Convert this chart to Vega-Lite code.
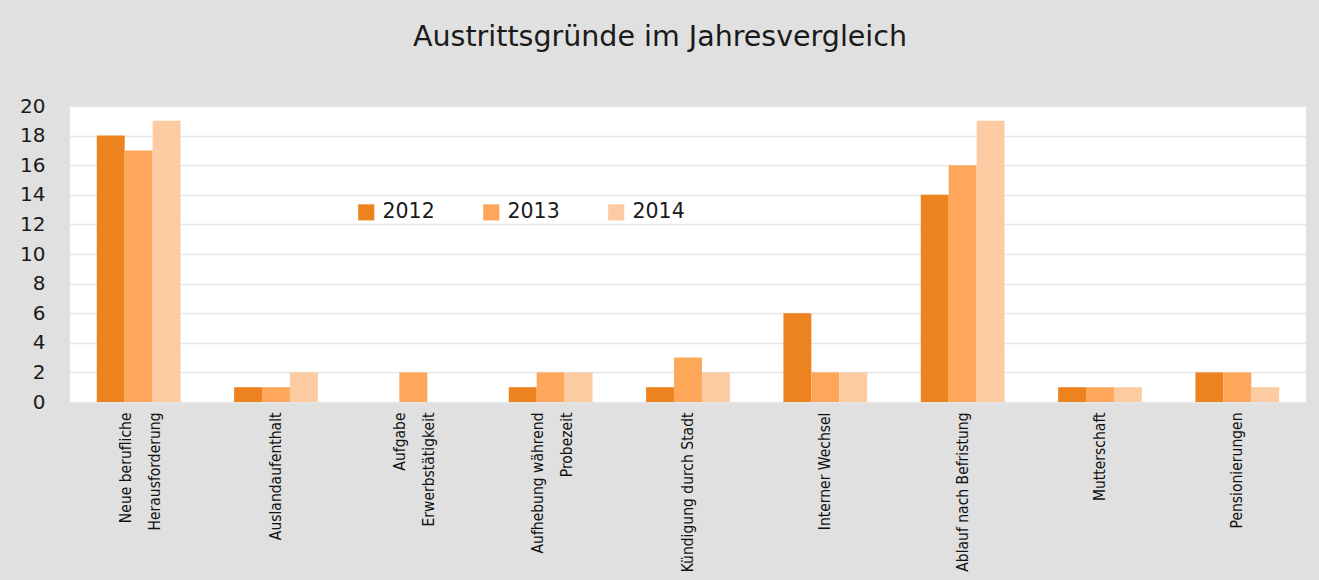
{
  "$schema": "https://vega.github.io/schema/vega-lite/v6.json",
  "autosize": {"type": "none"},
  "padding": {"left": 70, "top": 106, "right": 13, "bottom": 178},
  "width": 1236,
  "height": 296,
  "background": "#e0e0e0",
  "title": {
    "text": "Austrittsgründe im Jahresvergleich",
    "font": "DejaVu Sans",
    "fontSize": 28.5,
    "fontWeight": "normal",
    "color": "#1a1a1a",
    "anchor": "middle",
    "dx": -28,
    "offset": 45
  },
  "data": {
    "values": [
      {"grund": "Neue berufliche|Herausforderung", "jahr": "2012", "anzahl": 18},
      {"grund": "Neue berufliche|Herausforderung", "jahr": "2013", "anzahl": 17},
      {"grund": "Neue berufliche|Herausforderung", "jahr": "2014", "anzahl": 19},
      {"grund": "Auslandaufenthalt", "jahr": "2012", "anzahl": 1},
      {"grund": "Auslandaufenthalt", "jahr": "2013", "anzahl": 1},
      {"grund": "Auslandaufenthalt", "jahr": "2014", "anzahl": 2},
      {"grund": "Aufgabe|Erwerbstätigkeit", "jahr": "2012", "anzahl": 0},
      {"grund": "Aufgabe|Erwerbstätigkeit", "jahr": "2013", "anzahl": 2},
      {"grund": "Aufgabe|Erwerbstätigkeit", "jahr": "2014", "anzahl": 0},
      {"grund": "Aufhebung während|Probezeit", "jahr": "2012", "anzahl": 1},
      {"grund": "Aufhebung während|Probezeit", "jahr": "2013", "anzahl": 2},
      {"grund": "Aufhebung während|Probezeit", "jahr": "2014", "anzahl": 2},
      {"grund": "Kündigung durch Stadt", "jahr": "2012", "anzahl": 1},
      {"grund": "Kündigung durch Stadt", "jahr": "2013", "anzahl": 3},
      {"grund": "Kündigung durch Stadt", "jahr": "2014", "anzahl": 2},
      {"grund": "Interner Wechsel", "jahr": "2012", "anzahl": 6},
      {"grund": "Interner Wechsel", "jahr": "2013", "anzahl": 2},
      {"grund": "Interner Wechsel", "jahr": "2014", "anzahl": 2},
      {"grund": "Ablauf nach Befristung", "jahr": "2012", "anzahl": 14},
      {"grund": "Ablauf nach Befristung", "jahr": "2013", "anzahl": 16},
      {"grund": "Ablauf nach Befristung", "jahr": "2014", "anzahl": 19},
      {"grund": "Mutterschaft", "jahr": "2012", "anzahl": 1},
      {"grund": "Mutterschaft", "jahr": "2013", "anzahl": 1},
      {"grund": "Mutterschaft", "jahr": "2014", "anzahl": 1},
      {"grund": "Pensionierungen", "jahr": "2012", "anzahl": 2},
      {"grund": "Pensionierungen", "jahr": "2013", "anzahl": 2},
      {"grund": "Pensionierungen", "jahr": "2014", "anzahl": 1}
    ]
  },
  "mark": {"type": "bar"},
  "encoding": {
    "x": {
      "field": "grund",
      "type": "nominal",
      "sort": null,
      "title": null,
      "scale": {"paddingInner": 0.39, "paddingOuter": 0.195},
      "axis": {
        "labelExpr": "split(datum.value, '|')",
        "labelAngle": -90,
        "labelAlign": "right",
        "labelBaseline": "middle",
        "labelOffset": {"condition": {"test": "indexof(datum.value, '|') >= 0", "value": -13}, "value": 0},
        "labelFont": "Liberation Sans Narrow, DejaVu Sans Condensed, sans-serif",
        "labelFontSize": 15.5,
        "labelColor": "#111111",
        "labelPadding": 10,
        "labelLimit": 300,
        "labelLineHeight": 29,
        "ticks": false,
        "domain": false
      }
    },
    "xOffset": {"field": "jahr", "type": "nominal", "scale": {"padding": 0}},
    "y": {
      "field": "anzahl",
      "type": "quantitative",
      "title": null,
      "scale": {"domain": [0, 20], "nice": false},
      "axis": {
        "values": [0, 2, 4, 6, 8, 10, 12, 14, 16, 18, 20],
        "labelFont": "DejaVu Sans",
        "labelFontSize": 20,
        "labelColor": "#1a1a1a",
        "labelPadding": 25,
        "ticks": false,
        "domain": false,
        "gridColor": "#e6e6e6",
        "gridWidth": 1.5
      }
    },
    "color": {
      "field": "jahr",
      "type": "nominal",
      "scale": {"domain": ["2012", "2013", "2014"], "range": ["#ED831E", "#FEA75B", "#FDCBA2"]},
      "legend": {
        "title": null,
        "orient": "none",
        "legendX": 286,
        "legendY": 96,
        "direction": "horizontal",
        "symbolType": "square",
        "symbolSize": 260,
        "symbolStrokeWidth": 0,
        "labelFont": "DejaVu Sans",
        "labelFontSize": 20.5,
        "labelColor": "#1a1a1a",
        "labelOffset": 6,
        "columnPadding": 46
      }
    }
  },
  "config": {
    "view": {"fill": "white", "stroke": null}
  }
}
